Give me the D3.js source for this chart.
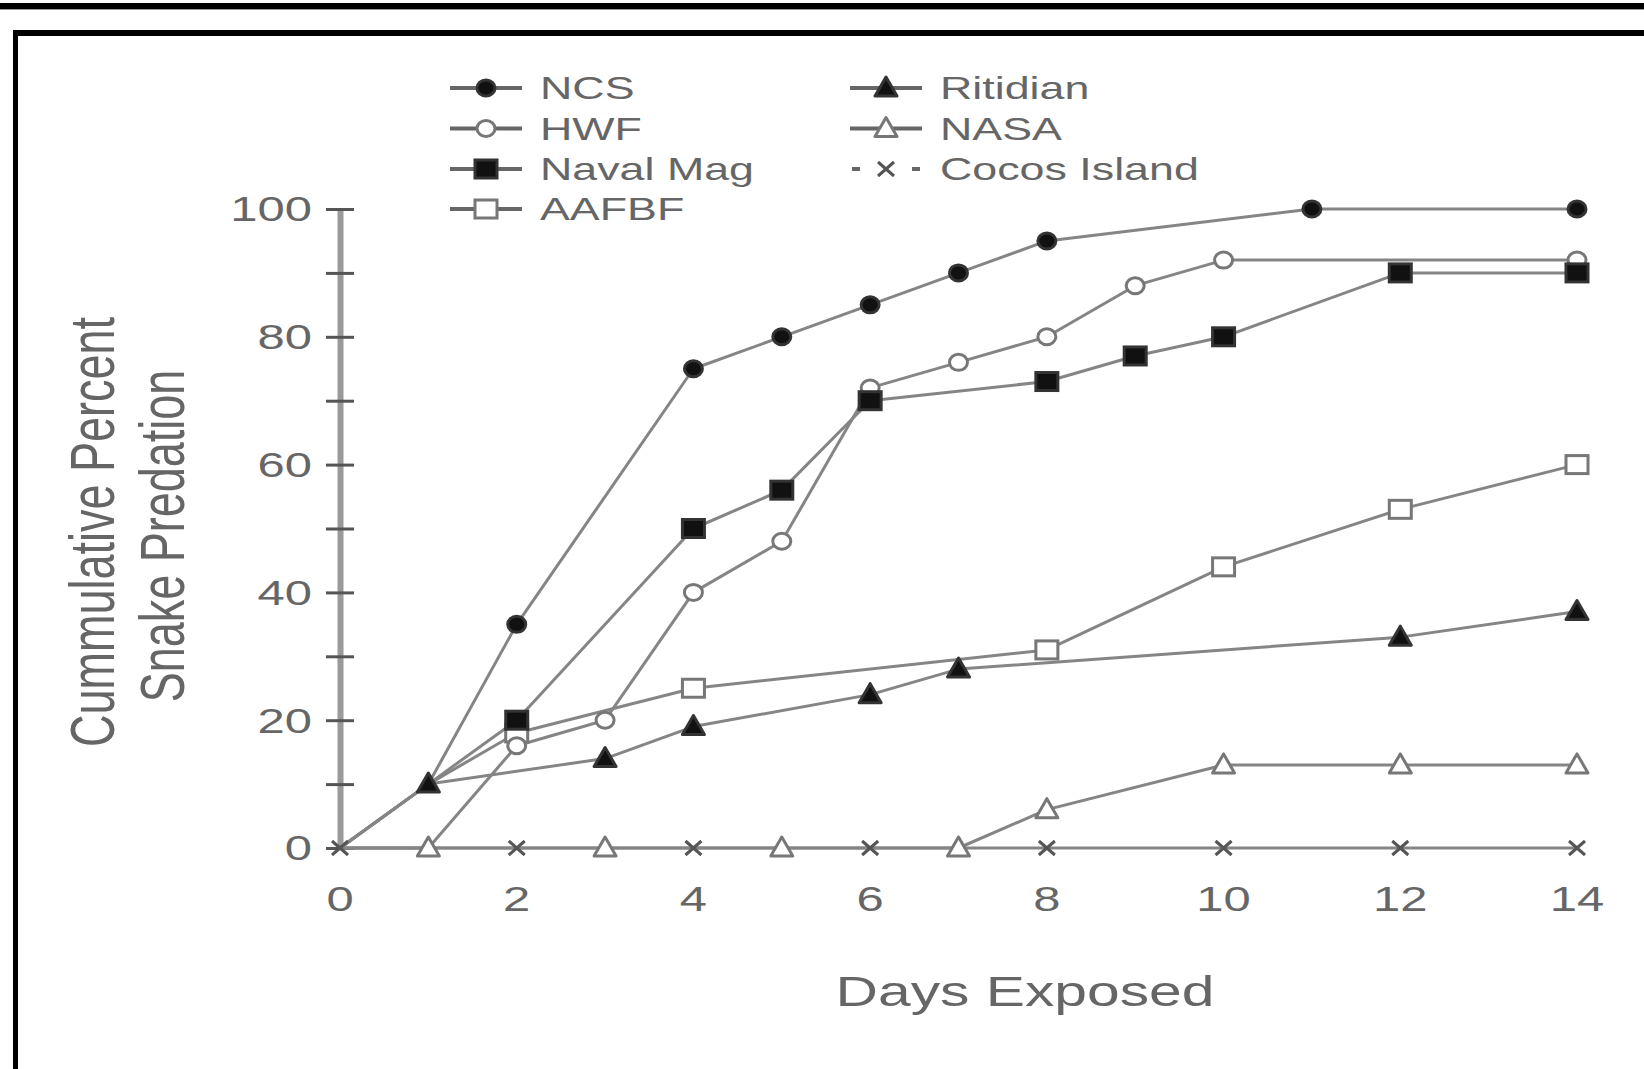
<!DOCTYPE html>
<html>
<head>
<meta charset="utf-8">
<script src="https://cdn.jsdelivr.net/npm/d3@7"></script>
<style>
  html, body { margin: 0; padding: 0; background: #fff; }
  svg { display: block; }
  text { font-family: "Liberation Sans", Arial, sans-serif; fill: #666; }
</style>
</head>
<body>
<svg id="chart" width="1644" height="1069"></svg>
<script>
// ---------------- data ----------------
const seriesNames = ["NCS", "HWF", "Naval Mag", "AAFBF", "Ritidian", "NASA", "Cocos Island"];
const ncsDays = [0, 1, 2, 4, 5, 6, 7, 8, 11, 14];
const ncsValues = [0, 10, 35, 75, 80, 85, 90, 95, 100, 100];
const hwfDays = [0, 1, 2, 3, 4, 5, 6, 7, 8, 9, 10, 14];
const hwfValues = [0, 0, 16, 20, 40, 48, 72, 76, 80, 88, 92, 92];
const navalDays = [0, 1, 2, 4, 5, 6, 8, 9, 10, 12, 14];
const navalValues = [0, 10, 20, 50, 56, 70, 73, 77, 80, 90, 90];
const aafbfDays = [0, 1, 2, 4, 8, 10, 12, 14];
const aafbfValues = [0, 10, 18, 25, 31, 44, 53, 60];
const ritidianDays = [0, 1, 3, 4, 6, 7, 12, 14];
const ritidianValues = [0, 10, 14, 19, 24, 28, 33, 37];
const nasaDays = [0, 1, 3, 5, 7, 8, 10, 12, 14];
const nasaValues = [0, 0, 0, 0, 0, 6, 13, 13, 13];
const cocosDays = [0, 2, 4, 6, 8, 10, 12, 14];
const cocosValues = [0, 0, 0, 0, 0, 0, 0, 0];
const xTickLabels = [0, 2, 4, 6, 8, 10, 12, 14];
const yTickLabels = [0, 20, 40, 60, 80, 100];
const yTickMarks = [0, 10, 20, 30, 40, 50, 60, 70, 80, 90, 100];
const xTitle = "Days Exposed";
const yTitle1 = "Cummulative Percent";
const yTitle2 = "Snake Predation";

// ---------------- setup ----------------
const svg = d3.select("#chart");
const STRETCH = 1.4;
const x = d3.scaleLinear().domain([0, 14]).range([340, 1577]);
const y = d3.scaleLinear().domain([0, 100]).range([848, 209]);

// frame
svg.append("rect").attr("x", 0).attr("y", 3).attr("width", 1644).attr("height", 6).attr("fill", "#000");
svg.append("line").attr("x1", 0).attr("x2", 1644).attr("y1", 9.5).attr("y2", 9.5).attr("stroke", "#999").attr("stroke-width", 1);
svg.append("rect").attr("x", 13).attr("y", 30).attr("width", 1631).attr("height", 6).attr("fill", "#000");
svg.append("rect").attr("x", 13).attr("y", 30).attr("width", 5).attr("height", 1039).attr("fill", "#000");

// y axis
const yAxisG = svg.append("g").attr("transform", `translate(${x(0)},0)`)
  .call(d3.axisLeft(y).tickValues(yTickMarks).tickSize(14).tickSizeOuter(0).tickFormat(""));
yAxisG.select(".domain").attr("stroke", "#9a9a9a").attr("stroke-width", 6);
yAxisG.selectAll(".tick line").attr("x1", 14).attr("stroke", "#555").attr("stroke-width", 3);

// y tick labels
svg.append("g").selectAll("text").data(yTickLabels).join("text")
  .attr("transform", d => `translate(312,${y(d)}) scale(${STRETCH},1)`)
  .attr("text-anchor", "end").attr("dominant-baseline", "central")
  .attr("font-size", 35).text(d => d);

// x tick labels
svg.append("g").selectAll("text").data(xTickLabels).join("text")
  .attr("transform", d => `translate(${x(d)},899) scale(${STRETCH},1)`)
  .attr("text-anchor", "middle").attr("dominant-baseline", "central")
  .attr("font-size", 35).text(d => d);

// axis titles
svg.append("text").attr("transform", `translate(1025,992) scale(${STRETCH},1)`)
  .attr("text-anchor", "middle").attr("dominant-baseline", "central")
  .attr("font-size", 42).text(xTitle);
svg.append("text").attr("transform", `translate(92,532) scale(${STRETCH},1) rotate(-90)`)
  .attr("text-anchor", "middle").attr("dominant-baseline", "central")
  .attr("font-size", 45).text(yTitle1);
svg.append("text").attr("transform", `translate(162,536) scale(${STRETCH},1) rotate(-90)`)
  .attr("text-anchor", "middle").attr("dominant-baseline", "central")
  .attr("font-size", 45).text(yTitle2);

// ---------------- markers ----------------
const LINE_COL = "#858585";
const OPEN_COL = "#777";
function drawMarker(g, type, cx, cy) {
  if (type === "circleFilled" || type === "circleOpen") {
    g.append("ellipse").attr("cx", cx).attr("cy", cy).attr("rx", 9).attr("ry", 8)
      .attr("fill", type === "circleFilled" ? "#111" : "#fff")
      .attr("stroke", type === "circleFilled" ? "#333" : OPEN_COL).attr("stroke-width", 3);
  } else if (type === "squareFilled" || type === "squareOpen") {
    g.append("rect").attr("x", cx - 11).attr("y", cy - 9).attr("width", 22).attr("height", 18)
      .attr("fill", type === "squareFilled" ? "#111" : "#fff")
      .attr("stroke", type === "squareFilled" ? "#333" : OPEN_COL).attr("stroke-width", 3);
  } else if (type === "triFilled" || type === "triOpen") {
    g.append("path").attr("d", `M${cx},${cy - 11}L${cx + 11},${cy + 8}L${cx - 11},${cy + 8}Z`)
      .attr("fill", type === "triFilled" ? "#111" : "#fff")
      .attr("stroke", type === "triFilled" ? "#333" : OPEN_COL).attr("stroke-width", 3)
      .attr("stroke-linejoin", "round");
  } else if (type === "cross") {
    g.append("path").attr("d", `M${cx - 8},${cy - 7}L${cx + 8},${cy + 7}M${cx - 8},${cy + 7}L${cx + 8},${cy - 7}`)
      .attr("stroke", "#555").attr("stroke-width", 3);
  }
}

// ---------------- series ----------------
const series = [
  { name: "AAFBF", days: aafbfDays, values: aafbfValues, marker: "squareOpen" },
  { name: "HWF", days: hwfDays, values: hwfValues, marker: "circleOpen" },
  { name: "NCS", days: ncsDays, values: ncsValues, marker: "circleFilled" },
  { name: "Naval Mag", days: navalDays, values: navalValues, marker: "squareFilled" },
  { name: "Cocos Island", days: cocosDays, values: cocosValues, marker: "cross" },
  { name: "NASA", days: nasaDays, values: nasaValues, marker: "triOpen" },
  { name: "Ritidian", days: ritidianDays, values: ritidianValues, marker: "triFilled" }
];

const line = d3.line().x(d => x(d[0])).y(d => y(d[1]));
const linesG = svg.append("g");
series.forEach(s => {
  const pts = s.days.map((d, i) => [d, s.values[i]]);
  linesG.append("path").datum(pts).attr("d", line)
    .attr("fill", "none").attr("stroke", LINE_COL).attr("stroke-width", 3)
    .attr("stroke-linejoin", "round");
});
// only the cross is marked at the origin
function hasMarker(s, day) { return !(day === 0 && s.marker !== "cross"); }
// a point shared with a series drawn later shows only that later marker
function coveredLater(si, day, val) {
  for (let j = si + 1; j < series.length; j++) {
    const s = series[j];
    for (let k = 0; k < s.days.length; k++) {
      if (s.days[k] === day && s.values[k] === val && hasMarker(s, day)) return true;
    }
  }
  return false;
}
const marksG = svg.append("g");
series.forEach((s, si) => {
  s.days.forEach((d, i) => {
    if (!hasMarker(s, d)) return;
    if (coveredLater(si, d, s.values[i])) return;
    drawMarker(marksG, s.marker, x(d), y(s.values[i]));
  });
});

// ---------------- legend ----------------
const legendItems = [
  { name: "NCS", marker: "circleFilled", col: 0, row: 0, dashed: false },
  { name: "HWF", marker: "circleOpen", col: 0, row: 1, dashed: false },
  { name: "Naval Mag", marker: "squareFilled", col: 0, row: 2, dashed: false },
  { name: "AAFBF", marker: "squareOpen", col: 0, row: 3, dashed: false },
  { name: "Ritidian", marker: "triFilled", col: 1, row: 0, dashed: false },
  { name: "NASA", marker: "triOpen", col: 1, row: 1, dashed: false },
  { name: "Cocos Island", marker: "cross", col: 1, row: 2, dashed: true }
];
const legendColX = [486, 886];
const legendRowY = [88, 128.5, 169, 209];
const legG = svg.append("g");
legendItems.forEach(it => {
  const cx = legendColX[it.col], cy = legendRowY[it.row];
  if (it.dashed) {
    legG.append("line").attr("x1", cx - 34).attr("x2", cx - 26).attr("y1", cy).attr("y2", cy)
      .attr("stroke", "#666").attr("stroke-width", 4);
    legG.append("line").attr("x1", cx + 26).attr("x2", cx + 34).attr("y1", cy).attr("y2", cy)
      .attr("stroke", "#666").attr("stroke-width", 4);
  } else {
    legG.append("line").attr("x1", cx - 36).attr("x2", cx + 36).attr("y1", cy).attr("y2", cy)
      .attr("stroke", "#666").attr("stroke-width", 4);
  }
  drawMarker(legG, it.marker, cx, cy);
  legG.append("text").attr("transform", `translate(${cx + 54},${cy}) scale(${STRETCH},1)`)
    .attr("dominant-baseline", "central").attr("font-size", 32).text(it.name);
});
</script>
</body>
</html>
